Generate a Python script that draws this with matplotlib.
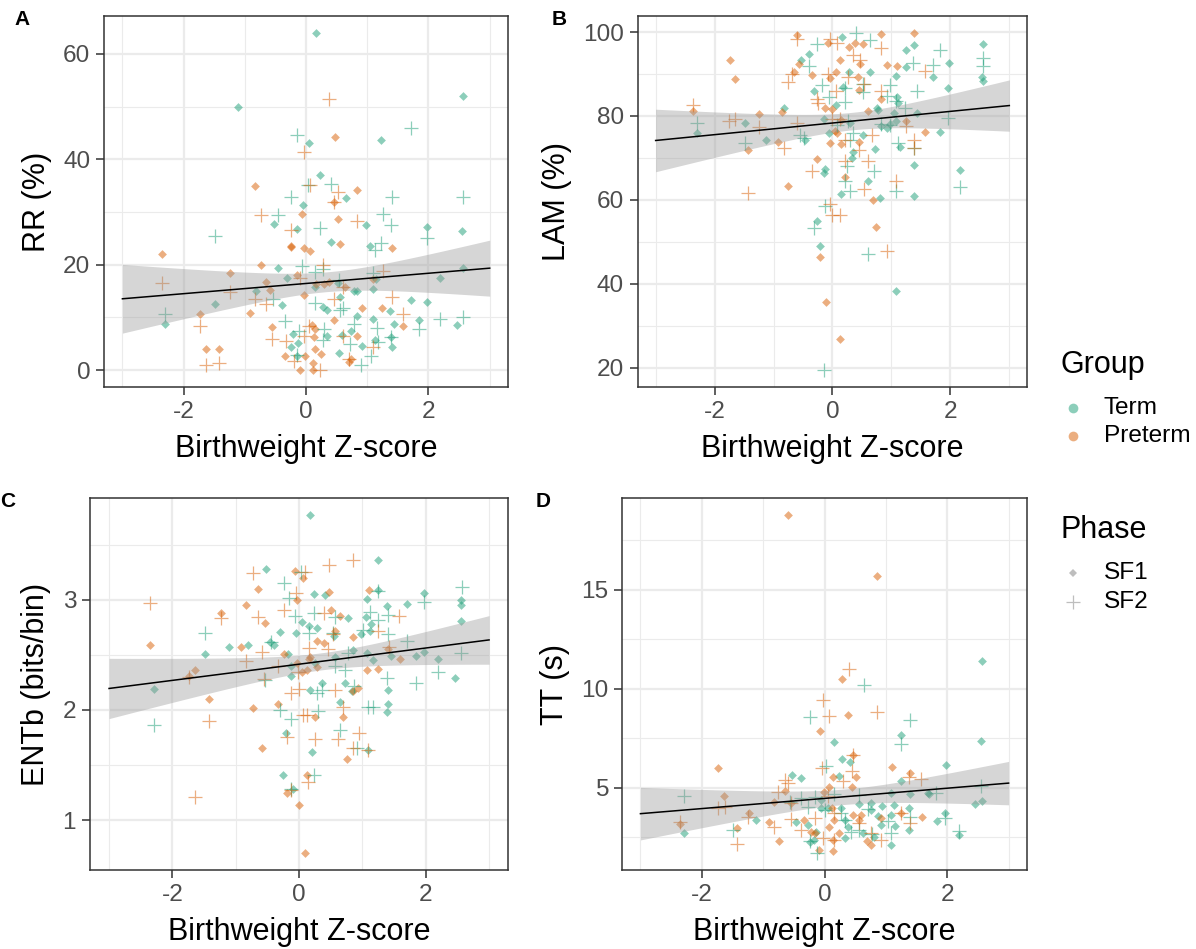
import numpy as np
import matplotlib.pyplot as plt
from matplotlib.lines import Line2D

plt.rcParams['font.family'] = ['Liberation Sans', 'DejaVu Sans']
plt.rcParams['axes.unicode_minus'] = False

TERM = '#1B9E77'
PRETERM = '#D95F02'

# (birthweight z-score, measure) per group and phase

# A: recurrence rate (%)
rr_term_sf1 = [(0.17, 64.0), (-1.11, 50.0), (2.57, 52.0), (0.04, 43.1), (1.23, 43.6), (0.22, 37.0),
               (0.65, 32.6), (-0.05, 31.4), (-0.53, 27.7), (-0.15, 26.7), (0.98, 27.5), (1.97, 27.2),
               (2.55, 26.5), (0.40, 24.3), (1.05, 23.5), (-0.46, 19.4), (-0.31, 17.4), (2.57, 19.4),
               (-0.82, 15.0), (-1.48, 12.5), (-2.31, 8.7), (-0.40, 12.4), (0.14, 15.7), (0.53, 16.5),
               (0.79, 15.1), (0.84, 15.0), (1.09, 15.4), (1.14, 17.3), (2.18, 17.4), (1.71, 13.4),
               (1.97, 13.0), (0.28, 11.9), (0.34, 11.4), (0.56, 13.8), (0.83, 10.2), (1.09, 9.7),
               (1.37, 11.2), (1.43, 8.8), (1.84, 9.6), (2.46, 8.5), (-0.22, 6.8), (-0.13, 5.2),
               (-0.25, 4.3), (-0.14, 2.6), (0.35, 6.5), (0.59, 6.7), (0.73, 7.4), (1.13, 5.8),
               (1.39, 6.3), (0.92, 4.5), (0.54, 3.2), (1.41, 4.4)]
rr_preterm_sf1 = [(0.47, 44.2), (-0.84, 35.0), (0.84, 34.1), (0.45, 31.9), (-0.07, 29.6), (0.52, 28.6),
                  (-0.25, 23.6), (-0.25, 23.3), (-0.04, 23.1), (0.07, 22.6), (0.56, 24.0), (1.40, 23.2),
                  (-2.36, 22.1), (-0.74, 19.9), (-1.24, 18.5), (-0.14, 18.1), (-0.66, 16.7), (0.17, 16.4),
                  (0.29, 16.4), (0.37, 16.8), (0.64, 15.7), (1.10, 17.3), (-0.04, 14.3), (-0.59, 15.2),
                  (-1.74, 10.6), (-0.92, 10.8), (0.92, 11.8), (1.24, 11.8), (0.45, 9.6), (1.58, 8.4),
                  (-0.55, 8.2), (0.09, 8.5), (0.14, 7.9), (0.13, 6.3), (0.84, 6.5), (-1.64, 4.1),
                  (-1.42, 4.1), (-0.34, 2.6), (-0.02, 2.6), (0.15, 4.1), (0.24, 3.1), (-0.10, 0.1),
                  (0.12, 1.3), (0.11, 0.0), (0.70, 1.6), (0.73, 2.2)]
rr_term_sf2 = [(-0.15, 44.7), (1.71, 45.9), (0.03, 35.2), (0.40, 35.3), (-0.25, 32.8), (1.40, 32.9),
               (2.57, 32.8), (-0.46, 29.4), (1.25, 29.7), (0.22, 27.0), (1.38, 27.5), (-1.48, 25.4),
               (1.97, 25.1), (1.23, 24.1), (1.12, 22.8), (-0.06, 19.8), (0.14, 18.7), (0.28, 19.2),
               (1.09, 18.4), (0.54, 17.1), (-0.54, 13.5), (0.14, 12.7), (0.61, 11.8), (0.56, 11.4),
               (-2.31, 10.7), (-0.35, 9.4), (2.18, 9.8), (2.56, 10.1), (1.84, 7.9), (1.16, 8.0),
               (0.79, 8.8), (-0.12, 7.5), (0.30, 7.9), (0.27, 5.8), (0.72, 4.9), (1.18, 5.3),
               (1.39, 6.3), (1.06, 2.6), (0.90, 0.9), (-0.14, 2.8)]
rr_preterm_sf2 = [(0.38, 51.4), (-0.04, 41.4), (0.07, 35.2), (0.53, 33.8), (0.46, 31.9), (-0.74, 29.4),
                  (0.84, 28.3), (-0.25, 26.6), (-2.36, 16.5), (-1.25, 14.8), (0.28, 20.0), (-0.10, 17.5),
                  (1.26, 18.8), (-0.84, 13.5), (-0.65, 12.6), (0.45, 13.5), (0.60, 15.7), (1.41, 13.8),
                  (1.58, 10.7), (-1.74, 8.4), (0.04, 8.4), (-0.03, 6.5), (-0.55, 5.9), (-0.33, 5.5),
                  (0.61, 6.5), (1.10, 4.4), (-1.64, 1.0), (-1.42, 1.3), (-0.20, 1.7), (0.23, 0.1),
                  (0.70, 2.2)]

# B: laminarity (%)
lam_term_sf1 = [(0.17, 98.8), (-0.39, 94.7), (-0.54, 93.4), (1.24, 95.8), (1.39, 96.8), (2.56, 97.1),
                (0.64, 90.5), (0.28, 90.4), (1.98, 92.6), (1.24, 91.7), (1.07, 89.6), (1.70, 89.3),
                (2.54, 89.2), (2.56, 88.3), (1.96, 86.7), (-0.31, 85.9), (0.06, 82.6), (0.18, 86.8),
                (1.09, 84.6), (1.12, 83.0), (0.75, 81.8), (0.78, 81.4), (-0.82, 81.8), (-1.49, 78.4),
                (-2.30, 76.0), (-1.12, 74.3), (-0.47, 74.3), (-0.15, 79.2), (-0.06, 75.9), (0.29, 78.4),
                (0.52, 75.5), (0.83, 77.7), (0.92, 77.1), (0.98, 78.1), (1.07, 78.7), (1.05, 80.8),
                (1.43, 80.6), (1.15, 72.5), (0.72, 72.2), (0.35, 71.3), (0.33, 70.0), (1.83, 76.2),
                (1.38, 68.4), (-0.13, 67.4), (-0.14, 66.4), (0.61, 64.6), (0.15, 61.3), (0.81, 60.5),
                (1.38, 60.8), (2.17, 67.2), (-0.26, 54.9), (-0.22, 49.0), (1.07, 38.3)]
lam_preterm_sf1 = [(-0.60, 99.4), (0.83, 99.6), (1.39, 99.8), (-0.07, 97.4), (0.38, 97.4), (0.51, 97.1),
                   (0.28, 96.4), (-1.74, 93.4), (0.12, 93.3), (-0.56, 92.5), (0.46, 92.5), (0.92, 92.1),
                   (1.10, 91.9), (-1.65, 88.7), (-0.34, 89.7), (0.06, 90.4), (-0.04, 89.1), (-0.65, 90.5),
                   (0.44, 89.3), (0.83, 84.0), (0.45, 86.2), (-0.13, 82.0), (0.00, 81.7), (0.61, 81.2),
                   (-0.85, 80.9), (-1.24, 80.4), (-2.37, 81.2), (0.14, 79.1), (1.24, 78.7), (1.57, 76.2),
                   (0.05, 76.4), (0.08, 75.9), (-0.92, 73.9), (-0.04, 73.5), (0.15, 73.3), (0.45, 73.9),
                   (-1.43, 72.0), (-0.26, 69.8), (0.21, 65.4), (-0.75, 63.3), (0.69, 60.0), (0.74, 53.6),
                   (-0.21, 46.4), (-0.11, 35.7), (0.12, 26.8)]
lam_term_sf2 = [(0.40, 99.8), (0.64, 98.0), (-0.27, 97.1), (1.83, 95.8), (2.55, 93.9), (2.55, 91.9),
                (-0.39, 91.9), (1.37, 92.7), (1.70, 92.1), (-0.17, 87.4), (-0.06, 84.6), (0.21, 86.6),
                (0.52, 87.7), (0.51, 85.8), (0.97, 87.4), (0.92, 84.7), (1.07, 83.6), (1.43, 85.9),
                (0.21, 83.4), (1.23, 81.8), (-2.30, 78.3), (-1.49, 73.5), (-0.55, 75.5), (-0.49, 74.7),
                (0.26, 78.7), (0.34, 75.9), (0.30, 74.3), (0.71, 66.8), (0.21, 64.4), (0.25, 68.0),
                (0.29, 62.1), (1.07, 62.1), (1.39, 72.3), (1.96, 79.4), (2.17, 63.1), (-0.13, 58.5),
                (-0.31, 53.2), (0.61, 47.0), (-0.14, 19.4), (0.83, 78.0), (0.98, 77.9), (1.11, 73.5),
                (0.07, 77.9)]
lam_preterm_sf2 = [(-0.60, 98.4), (-0.04, 98.4), (0.07, 97.5), (0.83, 96.3), (0.35, 94.6), (0.46, 93.4),
                   (1.57, 90.7), (-0.07, 89.9), (0.26, 89.3), (-0.75, 88.1), (-0.69, 90.1), (0.53, 87.5),
                   (0.83, 86.0), (0.06, 86.0), (-0.27, 84.0), (-0.24, 83.0), (-0.61, 78.3), (-0.01, 79.3),
                   (-0.83, 72.3), (-1.76, 78.7), (-1.65, 79.3), (-1.24, 77.4), (-2.37, 82.6), (0.13, 79.3),
                   (0.21, 74.3), (0.67, 75.5), (1.38, 74.3), (1.38, 72.3), (0.45, 71.9), (0.61, 69.3),
                   (-0.34, 66.8), (0.21, 69.2), (-1.43, 61.7), (0.53, 62.5), (1.08, 64.4), (-0.04, 58.9),
                   (0.00, 56.5), (0.12, 56.5), (0.92, 47.8), (1.24, 77.5)]

# C: entropy (bits/bin)
ent_term_sf1 = [(0.18, 3.77), (1.25, 3.36), (-0.52, 3.28), (0.23, 3.05), (0.41, 3.04), (1.08, 3.01),
                (1.24, 3.09), (1.98, 3.06), (2.56, 3.00), (2.56, 2.95), (2.55, 2.81), (1.71, 2.96),
                (1.39, 2.94), (0.04, 2.80), (0.15, 2.76), (0.29, 2.74), (-0.05, 2.70), (-0.30, 2.71),
                (0.55, 2.67), (0.78, 2.83), (1.06, 2.84), (1.14, 2.78), (0.98, 2.69), (1.12, 2.72),
                (-0.81, 2.59), (-1.11, 2.57), (-1.48, 2.51), (-0.39, 2.59), (-0.46, 2.62), (-0.17, 2.51),
                (-0.12, 2.40), (-0.13, 2.31), (0.25, 2.43), (0.56, 2.48), (0.85, 2.54), (1.08, 2.52),
                (1.16, 2.45), (1.45, 2.49), (1.84, 2.49), (1.98, 2.53), (2.19, 2.46), (2.47, 2.29),
                (-2.29, 2.19), (0.17, 2.18), (0.36, 2.24), (0.73, 2.24), (0.83, 2.17), (1.41, 2.18),
                (1.41, 2.05), (1.39, 1.98), (0.64, 2.07), (-0.21, 1.79), (0.21, 1.62), (1.09, 1.64),
                (-0.25, 1.41), (-0.10, 1.28)]
ent_preterm_sf1 = [(-0.06, 3.26), (0.07, 3.20), (-0.65, 3.10), (-0.03, 3.00), (0.48, 3.07), (1.11, 3.09),
                   (-0.83, 2.95), (-1.24, 2.88), (-0.54, 2.79), (0.51, 2.91), (0.64, 2.85), (0.85, 2.66),
                   (0.56, 2.72), (0.29, 2.63), (0.39, 2.61), (-2.36, 2.59), (-0.91, 2.57), (-0.24, 2.51),
                   (0.17, 2.48), (0.15, 2.46), (-0.04, 2.43), (0.05, 2.34), (0.12, 2.36), (0.28, 2.39),
                   (1.08, 2.36), (1.25, 2.37), (1.59, 2.46), (1.41, 2.55), (-1.64, 2.36), (-1.74, 2.31),
                   (-1.42, 2.10), (-0.73, 2.02), (-0.33, 2.05), (0.25, 1.94), (0.70, 1.94), (0.93, 2.20),
                   (-0.59, 1.65), (0.76, 1.55), (0.13, 1.41), (-0.19, 1.25), (0.00, 1.14), (0.10, 0.70),
                   (0.85, 2.17)]
ent_term_sf2 = [(0.03, 3.25), (-0.24, 3.15), (-0.16, 3.02), (1.25, 3.08), (2.58, 3.12), (1.98, 2.98),
                (-0.06, 2.85), (0.24, 2.88), (1.12, 2.89), (1.24, 2.82), (1.41, 2.86), (-1.48, 2.70),
                (0.15, 2.70), (0.54, 2.70), (1.01, 2.73), (1.41, 2.69), (1.71, 2.63), (-0.44, 2.62),
                (0.57, 2.84), (2.56, 2.52), (0.78, 2.52), (0.57, 2.40), (0.73, 2.36), (2.19, 2.34),
                (1.39, 2.29), (1.84, 2.24), (-0.54, 2.27), (0.36, 2.18), (0.28, 2.15), (0.87, 2.22),
                (-0.30, 2.00), (-0.13, 1.92), (0.30, 1.99), (1.09, 2.03), (1.16, 2.03), (-2.29, 1.86),
                (0.64, 1.82), (0.91, 1.65), (0.23, 1.41), (-0.12, 1.28)]
ent_preterm_sf2 = [(0.48, 3.32), (0.85, 3.36), (-0.73, 3.24), (0.09, 3.25), (-0.05, 3.06), (-0.24, 2.91),
                   (-2.36, 2.97), (-1.23, 2.83), (-0.65, 2.84), (0.39, 2.88), (1.58, 2.85), (1.25, 2.72),
                   (0.53, 2.69), (0.15, 2.56), (-0.59, 2.53), (-0.83, 2.44), (-0.34, 2.40), (0.46, 2.55),
                   (1.42, 2.57), (-1.73, 2.30), (-0.55, 2.28), (-0.01, 2.34), (-0.13, 2.15), (0.00, 2.19),
                   (0.56, 2.18), (0.70, 2.03), (0.06, 1.95), (0.13, 1.95), (-1.42, 1.90), (-0.19, 1.75),
                   (0.25, 1.74), (0.62, 1.74), (0.95, 1.79), (0.85, 1.65), (1.09, 1.64), (0.14, 1.35),
                   (-1.64, 1.21), (-0.12, 1.27)]

# D: trapping time (s)
tt_term_sf1 = [(2.57, 11.39), (2.55, 7.35), (0.16, 7.32), (0.29, 6.45), (0.41, 6.31), (1.25, 7.66),
               (1.98, 6.14), (-0.53, 5.62), (-0.39, 5.50), (0.23, 5.59), (1.24, 5.35), (1.40, 4.68),
               (1.08, 4.75), (1.68, 4.71), (2.46, 4.16), (2.57, 4.34), (-2.29, 2.70), (-1.11, 3.37),
               (-0.46, 3.24), (-0.27, 3.12), (-0.14, 2.78), (-0.17, 2.33), (-0.24, 2.24), (-0.05, 4.38),
               (-0.05, 3.96), (0.05, 3.96), (0.27, 3.96), (0.57, 4.16), (0.76, 4.24), (0.93, 4.08),
               (1.14, 4.13), (0.76, 3.87), (0.87, 3.57), (1.09, 3.62), (1.38, 3.96), (0.33, 3.37),
               (0.38, 3.00), (0.63, 2.70), (0.80, 2.53), (0.92, 3.12), (1.15, 3.07), (1.38, 2.87),
               (1.83, 3.29), (1.97, 3.71), (2.19, 2.61), (1.09, 2.11), (0.34, 2.43), (1.71, 4.68)]
tt_preterm_sf1 = [(-0.59, 18.78), (0.85, 15.67), (0.29, 10.50), (0.38, 8.66), (-0.07, 7.86), (0.47, 6.65),
                  (-1.73, 5.97), (1.10, 6.04), (1.40, 5.72), (0.52, 5.52), (0.14, 5.52), (0.45, 5.02),
                  (0.07, 5.02), (-0.01, 4.80), (-0.65, 4.85), (-1.64, 4.58), (-0.83, 4.29), (-0.55, 4.21),
                  (-2.36, 3.15), (-1.23, 3.74), (-0.91, 3.24), (-1.42, 2.98), (-0.74, 2.31), (-0.33, 3.37),
                  (-0.22, 2.78), (0.12, 3.96), (0.15, 3.37), (0.08, 3.03), (0.46, 3.62), (0.60, 3.62),
                  (0.57, 3.34), (0.92, 3.45), (1.24, 3.74), (1.59, 3.54), (0.23, 2.70), (0.70, 2.28),
                  (0.75, 2.11), (0.14, 1.82), (-0.09, 1.86), (-0.16, 2.70), (0.14, 2.36)]
tt_term_sf2 = [(-2.29, 4.58), (0.65, 10.21), (-0.24, 8.58), (1.40, 8.41), (1.24, 7.20), (0.03, 6.09),
               (-0.38, 4.46), (-0.16, 4.51), (0.15, 4.68), (0.56, 4.63), (1.82, 4.75), (2.55, 5.08),
               (-1.49, 2.87), (-0.57, 4.29), (-0.27, 4.04), (0.00, 3.87), (0.27, 3.74), (0.71, 3.91),
               (1.03, 3.29), (1.40, 3.54), (1.97, 3.45), (2.19, 2.83), (0.33, 3.37), (0.57, 2.87),
               (1.09, 2.70), (-0.24, 2.28), (-0.13, 1.69), (0.43, 2.78), (0.78, 2.66)]
tt_preterm_sf2 = [(0.40, 10.97), (-0.03, 9.42), (0.08, 8.61), (0.85, 8.83), (0.47, 6.65), (-0.04, 5.97),
                  (0.45, 5.86), (-0.64, 5.39), (-0.60, 5.22), (0.30, 5.35), (1.58, 5.42), (-0.76, 4.80),
                  (1.38, 5.52), (0.05, 4.58), (-0.54, 4.21), (-1.74, 3.96), (-1.63, 4.04), (-1.25, 3.54),
                  (-0.82, 3.03), (-0.54, 3.40), (-0.16, 3.45), (0.16, 3.71), (-2.36, 3.24), (-1.42, 2.16),
                  (-0.38, 2.87), (-0.03, 2.44), (0.15, 2.36), (0.57, 3.20), (0.76, 2.70), (0.92, 2.36),
                  (1.25, 3.71), (1.40, 3.20)]

panels = [
    dict(tag='A', ylabel='RR (%)', rect=[0.0870, 0.5922, 0.3378, 0.3909],
         yticks=[0, 20, 40, 60], ymin=[10, 30, 50],
         series=[rr_term_sf1, rr_preterm_sf1, rr_term_sf2, rr_preterm_sf2]),
    dict(tag='B', ylabel='LAM (%)', rect=[0.5334, 0.5922, 0.3253, 0.3909],
         yticks=[20, 40, 60, 80, 100], ymin=[30, 50, 70, 90],
         series=[lam_term_sf1, lam_preterm_sf1, lam_term_sf2, lam_preterm_sf2]),
    dict(tag='C', ylabel='ENTb (bits/bin)', rect=[0.0753, 0.0832, 0.3495, 0.3920],
         yticks=[1, 2, 3], ymin=[1.5, 2.5, 3.5],
         series=[ent_term_sf1, ent_preterm_sf1, ent_term_sf2, ent_preterm_sf2]),
    dict(tag='D', ylabel='TT (s)', rect=[0.5201, 0.0832, 0.3386, 0.3920],
         yticks=[5, 10, 15], ymin=[2.5, 7.5, 12.5, 17.5],
         series=[tt_term_sf1, tt_preterm_sf1, tt_term_sf2, tt_preterm_sf2]),
]

styles = [(TERM, 'D'), (PRETERM, 'D'), (TERM, '+'), (PRETERM, '+')]


def lm_band(x, y, grid, tcrit=1.975):
    # ordinary least squares with 95% confidence band, as geom_smooth(method='lm')
    n = len(x)
    slope, icpt = np.polyfit(x, y, 1)
    resid = y - (icpt + slope * x)
    s = np.sqrt(resid @ resid / (n - 2))
    sxx = ((x - x.mean()) ** 2).sum()
    se = s * np.sqrt(1.0 / n + (grid - x.mean()) ** 2 / sxx)
    fit = icpt + slope * grid
    return fit, fit - tcrit * se, fit + tcrit * se


fig = plt.figure(figsize=(11.96, 9.49), dpi=100)

for p in panels:
    ax = fig.add_axes(p['rect'])
    allx, ally = [], []
    for pts, (col, mk) in zip(p['series'], styles):
        x = np.array([q[0] for q in pts])
        y = np.array([q[1] for q in pts])
        allx.append(x)
        ally.append(y)
        if mk == 'D':
            ax.scatter(x, y, s=20, marker='D', color=col, alpha=0.5, linewidths=0, zorder=3)
        else:
            ax.scatter(x, y, s=110, marker='+', color=col, alpha=0.5, linewidths=0.9, zorder=3)
    allx = np.concatenate(allx)
    ally = np.concatenate(ally)

    grid = np.linspace(-3, 3, 80)
    fit, lo, hi = lm_band(allx, ally, grid)
    ax.fill_between(grid, lo, hi, color='#999999', alpha=0.4, linewidth=0, zorder=4)
    ax.plot(grid, fit, color='black', lw=1.1, zorder=5)

    ymin = min(ally.min(), lo.min())
    ymax = max(ally.max(), hi.max())
    pad = 0.05 * (ymax - ymin)
    ax.set_ylim(ymin - pad, ymax + pad)
    ax.set_xlim(-3.3, 3.3)

    ax.set_xticks([-2, 0, 2])
    ax.set_xticks([-3, -1, 1, 3], minor=True)
    ax.set_yticks(p['yticks'])
    ax.set_yticks(p['ymin'], minor=True)
    ax.grid(True, which='major', color='#EBEBEB', lw=1.6, zorder=0)
    ax.grid(True, which='minor', color='#EBEBEB', lw=0.8, zorder=0)
    ax.set_axisbelow(True)
    ax.tick_params(which='major', length=6, width=1.1, color='#333333',
                   labelsize=17.6, labelcolor='#4D4D4D', pad=4)
    ax.tick_params(which='minor', length=0)
    for sp in ax.spines.values():
        sp.set_color('#333333')
        sp.set_linewidth(1.1)

    ax.set_xlabel('Birthweight Z-score', fontsize=22, labelpad=8)
    ax.set_ylabel(p['ylabel'], fontsize=22, labelpad=8)

    l, b, w, h = p['rect']
    fig.text(l - 0.075 if p['tag'] in 'AC' else l - 0.072, b + h + 0.006, p['tag'],
             fontsize=15, fontweight='bold', va='top', ha='left')

# legends
fig.text(0.887, 0.6154, 'Group', fontsize=22, va='center', ha='left')
for yy, lab, col in [(0.570, 'Term', TERM), (0.5406, 'Preterm', PRETERM)]:
    fig.add_artist(Line2D([0.897], [yy], marker='o', ms=7, color=col, alpha=0.5,
                          lw=0, markeredgewidth=0, transform=fig.transFigure))
    fig.text(0.923, yy, lab, fontsize=17.6, va='center', ha='left')

fig.text(0.887, 0.4415, 'Phase', fontsize=22, va='center', ha='left')
for yy, lab, mk in [(0.3962, 'SF1', 'D'), (0.3656, 'SF2', '+')]:
    if mk == 'D':
        h = Line2D([0.897], [yy], marker='D', ms=4, color='#7F7F7F', alpha=0.5, lw=0,
                   markeredgewidth=0, transform=fig.transFigure)
    else:
        h = Line2D([0.897], [yy], marker='+', ms=10, color='#7F7F7F', alpha=0.5, lw=0,
                   markeredgewidth=0.9, transform=fig.transFigure)
    fig.add_artist(h)
    fig.text(0.923, yy, lab, fontsize=17.6, va='center', ha='left')

fig.savefig('out.png', dpi=100)
